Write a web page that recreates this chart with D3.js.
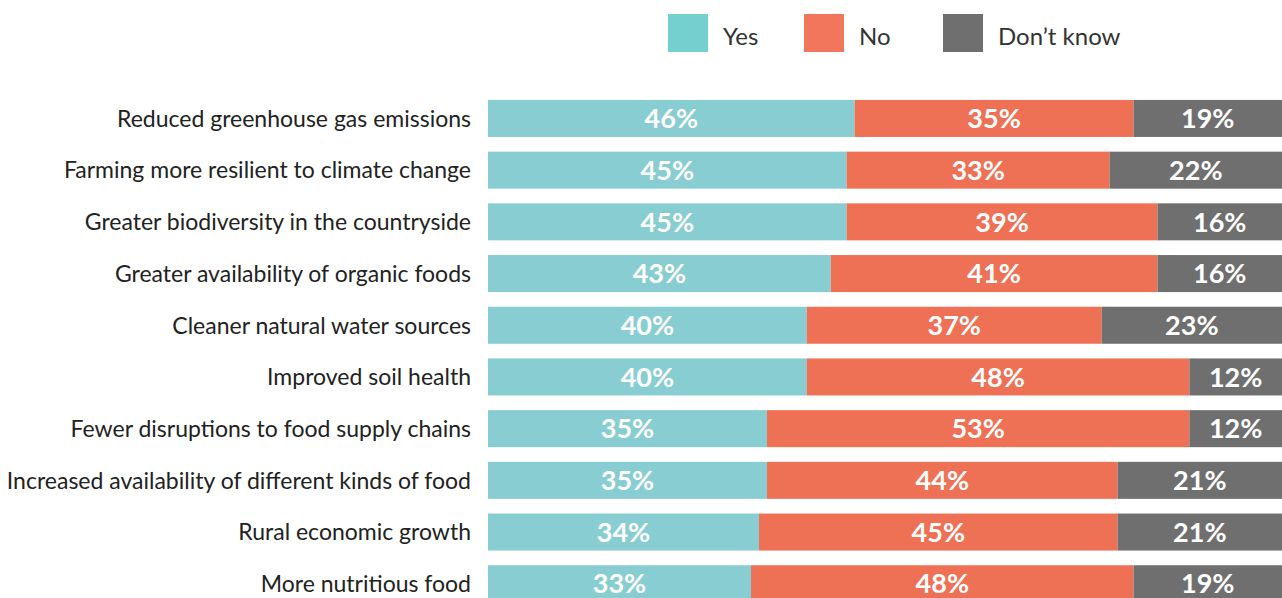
<!DOCTYPE html>
<html>
<head>
<meta charset="utf-8">
<script src="https://cdn.jsdelivr.net/npm/d3@7"></script>
<style>
  body { margin: 0; background: #fff; overflow: hidden; }
  text { font-family: Lato, "Open Sans", sans-serif; }
</style>
</head>
<body>
<div id="chart"></div>
<script>
const categories = [
  "Reduced greenhouse gas emissions",
  "Farming more resilient to climate change",
  "Greater biodiversity in the countryside",
  "Greater availability of organic foods",
  "Cleaner natural water sources",
  "Improved soil health",
  "Fewer disruptions to food supply chains",
  "Increased availability of different kinds of food",
  "Rural economic growth",
  "More nutritious food"
];
const yesValues = [46, 45, 45, 43, 40, 40, 35, 35, 34, 33];
const noValues = [35, 33, 39, 41, 37, 48, 53, 44, 45, 48];
const dkValues = [19, 22, 16, 16, 23, 12, 12, 21, 21, 19];
const seriesNames = ["Yes", "No", "Don\u2019t know"];

const width = 1282, height = 598;
const barColors = ["#88cdd2", "#ee7156", "#6f6f6f"];
const legendColors = ["#74cfcf", "#f2765c", "#6f6f6f"];

const svg = d3.select("#chart").append("svg")
  .attr("width", width)
  .attr("height", height);

const rows = categories.map((c, i) => ({
  cat: c, yes: yesValues[i], no: noValues[i], dk: dkValues[i]
}));
const keys = ["yes", "no", "dk"];
const stacked = d3.stack().keys(keys)(rows);

const x = d3.scaleLinear().domain([0, 100]).range([488, 1285]);
const y = d3.scaleBand()
  .domain(categories)
  .range([92.6, 92.6 + 51.7 * categories.length])
  .paddingInner(0.284)
  .paddingOuter(0.142);

// category labels
svg.append("g")
  .selectAll("text")
  .data(categories)
  .join("text")
  .attr("x", 471)
  .attr("y", d => y(d) + y.bandwidth() / 2)
  .attr("dy", "0.36em")
  .attr("text-anchor", "end")
  .attr("fill", "#222")
  .style("font-size", "23px")
  .text(d => d);

// bars
const layer = svg.append("g")
  .selectAll("g")
  .data(stacked)
  .join("g")
  .attr("fill", (d, i) => barColors[i]);

layer.selectAll("rect")
  .data(d => d)
  .join("rect")
  .attr("x", d => x(d[0]))
  .attr("y", d => y(d.data.cat))
  .attr("width", d => x(d[1]) - x(d[0]))
  .attr("height", y.bandwidth());

layer.selectAll("text")
  .data(d => d)
  .join("text")
  .attr("x", d => (x(d[0]) + Math.min(x(d[1]), width)) / 2)
  .attr("y", d => y(d.data.cat) + y.bandwidth() / 2)
  .attr("dy", "0.36em")
  .attr("text-anchor", "middle")
  .attr("fill", "#fff")
  .style("font-size", "27px")
  .style("font-weight", "bold")
  .text(d => (d[1] - d[0]) + "%");

// legend
const legendX = [668, 804, 943];
const legend = svg.append("g")
  .selectAll("g")
  .data(seriesNames)
  .join("g")
  .attr("transform", (d, i) => `translate(${legendX[i]},14)`);

legend.append("rect")
  .attr("width", 40)
  .attr("height", 38)
  .attr("fill", (d, i) => legendColors[i]);

legend.append("text")
  .attr("x", 55)
  .attr("y", 23)
  .attr("dy", "0.35em")
  .attr("fill", "#333")
  .style("font-size", "24px")
  .text(d => d);
</script>
</body>
</html>
